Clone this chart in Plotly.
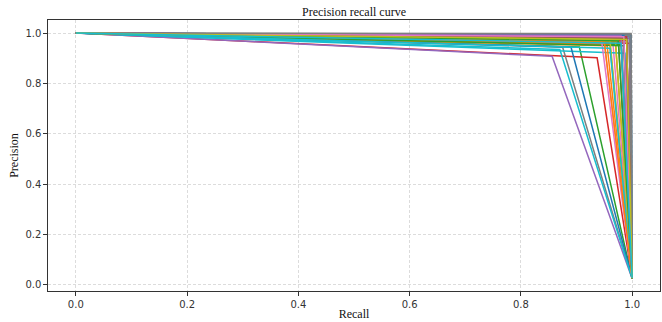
import plotly.graph_objects as go

# Per-class operating points (recall, precision) of a 3-point PR curve
recall_mid = [0.995, 0.970, 0.905, 0.937, 0.856, 0.990, 0.965, 0.875, 0.985, 0.987,
              0.890, 0.955, 0.980, 0.995, 0.990, 0.975, 0.950, 0.998, 0.970, 0.870,
              0.998, 0.960, 0.985, 0.990, 0.995, 0.980, 0.945, 0.995, 0.960, 0.960,
              0.985, 0.950, 0.975, 0.990, 0.980, 0.990, 0.985, 0.998, 0.990, 0.980]
precision_mid = [0.985, 0.960, 0.945, 0.902, 0.908, 0.975, 0.970, 0.944, 0.965, 0.920,
                 0.945, 0.950, 0.955, 0.960, 0.990, 0.980, 0.960, 0.995, 0.965, 0.935,
                 0.990, 0.955, 0.950, 0.970, 0.980, 0.985, 0.970, 0.990, 0.975, 0.940,
                 0.990, 0.965, 0.970, 0.985, 0.990, 0.980, 0.985, 0.998, 0.975, 0.960]
precision_end = [0.028, 0.027, 0.026, 0.029, 0.025, 0.028, 0.027, 0.026, 0.030, 0.028,
                 0.027, 0.026, 0.028, 0.029, 0.027, 0.028, 0.026, 0.030, 0.027, 0.026,
                 0.028, 0.027, 0.029, 0.028, 0.027, 0.026, 0.028, 0.029, 0.027, 0.026,
                 0.028, 0.027, 0.026, 0.028, 0.029, 0.027, 0.028, 0.030, 0.027, 0.028]

colors = ["#1f77b4", "#ff7f0e", "#2ca02c", "#d62728", "#9467bd",
          "#8c564b", "#e377c2", "#7f7f7f", "#bcbd22", "#17becf"]

fig = go.Figure()
for i, (r, p, e) in enumerate(zip(recall_mid, precision_mid, precision_end)):
    fig.add_trace(go.Scatter(
        x=[0.0, r, 1.0], y=[1.0, p, e], mode="lines",
        line=dict(color=colors[i % 10], width=1.5),
        showlegend=False, hoverinfo="skip"))

axis_common = dict(
    showline=True, linecolor="#333333", linewidth=1.2, mirror=True,
    ticks="outside", ticklen=3.5, tickwidth=1, tickcolor="#333333",
    showgrid=True, gridcolor="#dcdcdc", griddash="3px,2px", gridwidth=0.8,
    zeroline=False, tickformat=".1f", automargin=False,
    tickfont=dict(family="DejaVu Sans", size=10, color="#333333"),
)

fig.update_layout(
    width=662, height=322,
    margin=dict(l=48, r=2, t=20, b=31),
    paper_bgcolor="white", plot_bgcolor="white",
    title=dict(text="Precision recall curve", x=0.5, xref="paper", xanchor="center",
               y=1, yref="paper", yanchor="bottom", pad=dict(b=4),
               font=dict(family="Liberation Serif", size=12, color="#111111")),
    xaxis=dict(range=[-0.05, 1.05], dtick=0.2,
               title=dict(text="Recall", standoff=1,
                          font=dict(family="Liberation Serif", size=12, color="#111111")),
               **axis_common),
    yaxis=dict(range=[-0.024, 1.052], dtick=0.2,
               title=dict(text="Precision", standoff=4,
                          font=dict(family="Liberation Serif", size=12, color="#111111")),
               **axis_common),
)

fig.write_html(
    "out.html",
    config={"displayModeBar": False},
    post_script="document.body.style.margin='0';document.body.style.padding='0';"
                "document.body.style.overflow='hidden';",
)
